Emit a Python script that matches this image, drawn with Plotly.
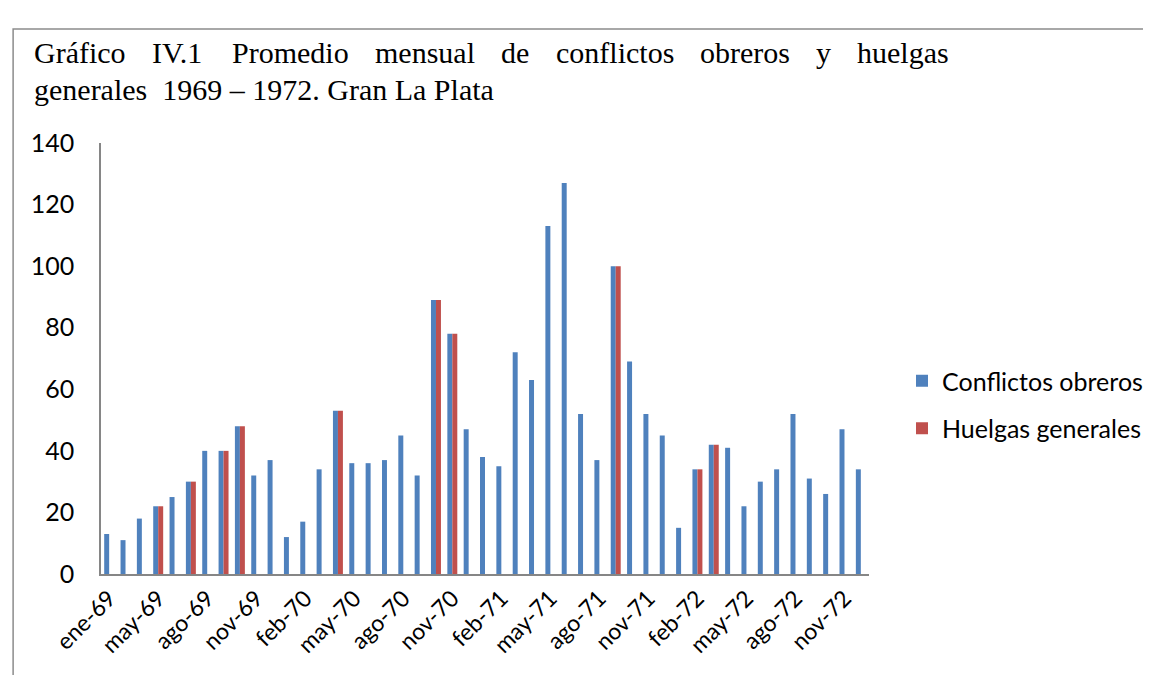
import plotly.graph_objects as go

# ---- data ----
meses = ["ene-69", "mar-69", "abr-69", "may-69", "jun-69", "jul-69", "ago-69", "sep-69", "oct-69", "nov-69", "dic-69",
         "ene-70", "feb-70", "mar-70", "abr-70", "may-70", "jun-70", "jul-70", "ago-70", "sep-70", "oct-70", "nov-70", "dic-70",
         "ene-71", "feb-71", "mar-71", "abr-71", "may-71", "jun-71", "jul-71", "ago-71", "sep-71", "oct-71", "nov-71", "dic-71",
         "ene-72", "feb-72", "mar-72", "abr-72", "may-72", "jun-72", "jul-72", "ago-72", "sep-72", "oct-72", "nov-72", "dic-72"]
conflictos = [13, 11, 18, 22, 25, 30, 40, 40, 48, 32, 37,
              12, 17, 34, 53, 36, 36, 37, 45, 32, 89, 78, 47,
              38, 35, 72, 63, 113, 127, 52, 37, 100, 69, 52, 45,
              15, 34, 42, 41, 22, 30, 34, 52, 31, 26, 47, 34]
huelgas_meses = ["may-69", "jul-69", "sep-69", "oct-69", "abr-70", "oct-70", "nov-70", "sep-71", "feb-72", "mar-72"]
huelgas_valores = [22, 30, 40, 48, 53, 89, 78, 100, 34, 42]
tick_labels = meses[::3]
y_ticks = [0, 20, 40, 60, 80, 100, 120, 140]
title_line1 = "Gráfico IV.1 Promedio mensual de conflictos obreros y huelgas"
title_line2 = "generales  1969 – 1972. Gran La Plata"

huelgas = [None] * len(meses)
for m, v in zip(huelgas_meses, huelgas_valores):
    huelgas[meses.index(m)] = v

# ---- layout geometry (pixels) ----
W, H = 1151, 675
L, R, T, B = 93, 289, 135, 109
PW, PH = W - L - R, H - T - B


def px(x):
    return (x - L) / PW


def py(y):
    return (H - B - y) / PH


BLUE = "#4F81BD"
RED = "#C0504D"
SANS = "Lato, Calibri, Carlito, sans-serif"
SERIF = "Liberation Serif, Times New Roman, serif"
FONT_SANS = 25

fig = go.Figure()
fig.add_trace(go.Bar(x=meses, y=conflictos, name="Conflictos obreros", marker_color=BLUE,
                     marker_line_width=0, legendgroup="a"))
fig.add_trace(go.Bar(x=meses, y=huelgas, name="Huelgas generales", marker_color=RED,
                     marker_line_width=0, legendgroup="b"))

# Title: justified first line, words placed using Times metrics
tw = {'G': .722, 'r': .333, 'á': .444, 'f': .333, 'i': .278, 'c': .444, 'o': .5, 'I': .333, 'V': .722,
      '.': .25, '1': .5, 'P': .556, 'm': .778, 'e': .444, 'd': .5, 'n': .5, 's': .389, 'u': .5, 'a': .444,
      'l': .278, 't': .278, 'b': .5, 'y': .5, 'h': .5, 'g': .5}
FS = 30
x_start, x_end = 24, 940
words = title_line1.split(" ")
widths = [sum(tw.get(c, .5) for c in w) * FS for w in words]
gap = (x_end - x_start - sum(widths)) / (len(words) - 1)
annotations = []
xc = x_start
for w, wd in zip(words, widths):
    annotations.append(dict(text=w, x=px(xc), y=py(44), xref="paper", yref="paper",
                            xanchor="left", yanchor="middle", showarrow=False,
                            font=dict(family=SERIF, size=FS, color="black")))
    xc += wd + gap
annotations.append(dict(text=title_line2.replace("  ", "&nbsp; "), x=px(x_start), y=py(81), xref="paper",
                        yref="paper", xanchor="left", yanchor="middle", showarrow=False,
                        font=dict(family=SERIF, size=FS, color="black")))

shapes = [dict(type="path", xref="paper", yref="paper",
               path=f"M {px(5)},{py(676)} L {px(5)},{py(21)} L {px(1152)},{py(21)}",
               line=dict(color="#8c8c8c", width=1.5))]

fig.update_layout(
    width=W, height=H,
    margin=dict(l=L, r=R, t=T, b=B, pad=0),
    paper_bgcolor="white", plot_bgcolor="white",
    barmode="group", bargap=0.39, bargroupgap=0,
    showlegend=True,
    legend=dict(x=px(894), y=py(350), xanchor="left", yanchor="top",
                font=dict(family=SANS, size=FONT_SANS, color="black"),
                tracegroupgap=12, traceorder="grouped", bgcolor="rgba(0,0,0,0)"),
    annotations=annotations,
    shapes=shapes,
    xaxis=dict(type="category", categoryorder="array", categoryarray=meses,
               range=[-0.5, len(meses) - 0.5],
               tickmode="array", tickvals=tick_labels, ticktext=tick_labels,
               tickangle=-45, tickfont=dict(family=SANS, size=23, color="black"),
               showline=True, linecolor="#868686", linewidth=1.5, ticks="",
               showgrid=False, zeroline=False, fixedrange=True),
    yaxis=dict(range=[0, 140], tickmode="array", tickvals=y_ticks,
               tickfont=dict(family=SANS, size=FONT_SANS, color="black"),
               showline=True, linecolor="#868686", linewidth=1.5, ticks="",
               ticklabelstandoff=20,
               showgrid=False, zeroline=False, fixedrange=True),
)

fig.write_html("out.html", config={"displayModeBar": False})
